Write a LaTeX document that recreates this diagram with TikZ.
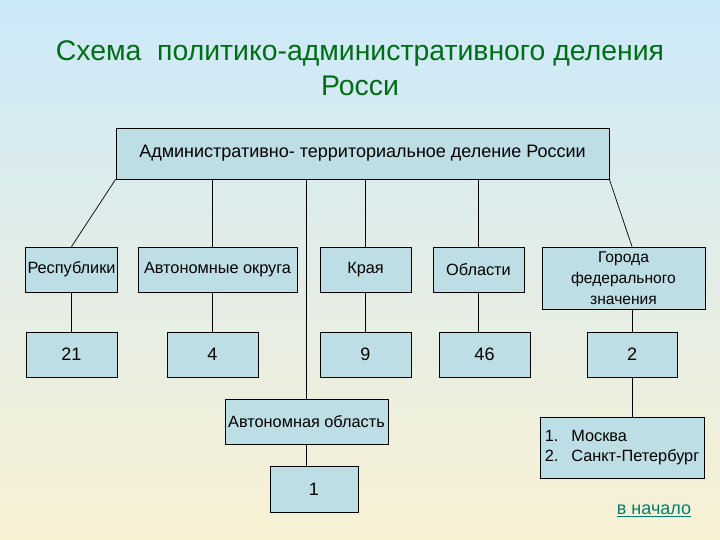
\documentclass[tikz,border=0pt]{standalone}
\usepackage{fontspec}
\setmainfont{Liberation Sans}
\usetikzlibrary{calc}
\definecolor{skytop}{RGB}{204, 233, 250}
\definecolor{sandbot}{RGB}{249, 241, 212}
\definecolor{boxfill}{RGB}{190, 222, 229}
\definecolor{titlegreen}{RGB}{0, 110, 20}
\definecolor{linkteal}{RGB}{0, 128, 110}

\begin{document}
\begin{tikzpicture}[x=1pt, y=-1pt,
        unit/.style={draw=black, line width=0.8pt, fill=boxfill, align=center, inner sep=2pt, font=\fontsize{16.3}{20}\selectfont},
        count/.style={unit, minimum width=91, minimum height=45, font=\fontsize{18}{21}\selectfont},
        link/.style={line width=0.7pt}]
        % background
        \shade[top color=skytop, bottom color=sandbot] (0,0) rectangle (720,540);
        \useasboundingbox (0,0) rectangle (720,540);
        \node (title) [align=center, text=titlegreen, font=\fontsize{28.4}{35}\selectfont] at (360, 68) {Схема\ \ политико-административного деления\\Росси};
        % top box
        \node (top) [unit, minimum width=493, minimum height=51, font=\fontsize{18}{21}\selectfont] at (362.5, 153.5) {Административно- территориальное деление России};
        % first row
        \node (resp) [unit, minimum width=91, minimum height=45] at (71.5, 269.5) {Республики};
        \node (aokr) [unit, minimum width=159, minimum height=45] at (217.5, 269.5) {Автономные округа};
        \node (kraya) [unit, minimum width=91, minimum height=45] at (365.5, 269.5) {Края};
        \node (obl) [unit, minimum width=91, minimum height=45] at (478.5, 269.5) {Области};
        \node (gfz) [unit, minimum width=163, minimum height=62, font=\fontsize{15.6}{21}\selectfont] at (623.5, 278) {Города\\федерального\\значения};
        % numbers
        \node (n21) [count] at (71.5, 354.5) {21};
        \node (n4) [count] at (212.5, 354.5) {4};
        \node (n9) [count] at (365.5, 354.5) {9};
        \node (n46) [count] at (484.5, 354.5) {46};
        \node (n2) [count, minimum width=90] at (632, 354.5) {2};
        % autonomous oblast
        \node (aobl) [unit, minimum width=163, minimum height=45] at (306.5, 421.5) {Автономная область};
        \node (n1) [count, minimum width=88, minimum height=46] at (314, 489) {1};
        \node (msk) [unit, minimum width=164, minimum height=61, align=left] at (622, 447.5)
            {\begin{tabular}{@{}l@{\hspace{13pt}}l@{}}1.&Москва\\[0pt]2.&Санкт-Петербург\end{tabular}};
        \node (back) [text=linkteal, font=\fontsize{18}{21}\selectfont] at (654, 511) {\underline{в начало}};
        % connectors
        \draw[link] (top.south west) -- (resp.north);
        \draw[link] (n4.north |- top.south) -- (n4.north |- aokr.north);
        \draw[link] (top.south -| aobl.north) -- (aobl.north);
        \draw[link] (top.south -| kraya.north) -- (kraya.north);
        \draw[link] (top.south -| obl.north) -- (obl.north);
        \draw[link] (top.south east) -- (n2.north |- gfz.north);
        \draw[link] (resp.south) -- (n21.north);
        \draw[link] (n4.north |- aokr.south) -- (n4.north);
        \draw[link] (kraya.south) -- (n9.north);
        \draw[link] (obl.south) -- (obl.south |- n46.north);
        \draw[link] (n2.north |- gfz.south) -- (n2.north);
        \draw[link] (aobl.south) -- (aobl.south |- n1.north);
        \draw[link] (n2.south) -- (n2.south |- msk.north);
    \end{tikzpicture}
\end{document}
